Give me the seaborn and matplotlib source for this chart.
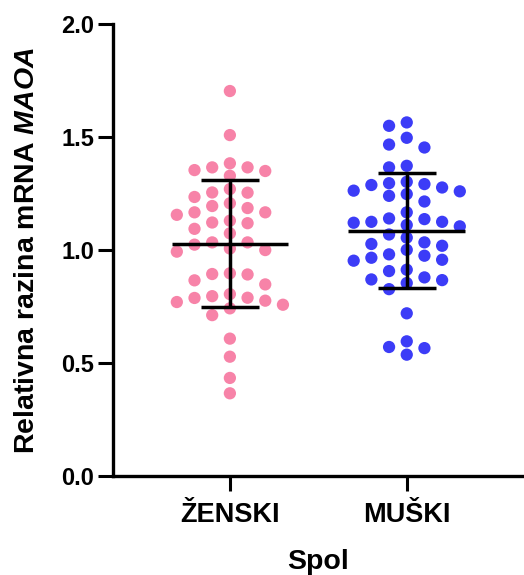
import numpy as np
import pandas as pd
import matplotlib
matplotlib.use("Agg")
import matplotlib.pyplot as plt
import seaborn as sns

# ---- data ----
groups = ["ŽENSKI", "MUŠKI"]
zenski = [1.704, 1.509, 1.384, 1.366, 1.350, 1.354, 1.366, 1.329, 1.270, 1.255,
          1.254, 1.235, 1.195, 1.207, 1.186, 1.167, 1.156, 1.167, 1.122, 1.130,
          1.119, 1.094, 1.074, 1.034, 1.024, 1.034, 0.993, 1.007, 1.000, 0.894,
          0.897, 0.892, 0.848, 0.866, 0.770, 0.788, 0.758, 0.776, 0.796, 0.789,
          0.805, 0.742, 0.712, 0.608, 0.528, 0.434, 0.366]
muski = [1.565, 1.550, 1.497, 1.467, 1.454, 1.366, 1.373, 1.302, 1.277, 1.292,
         1.296, 1.288, 1.260, 1.263, 1.248, 1.240, 1.215, 1.167, 1.140, 1.125,
         1.137, 1.125, 1.121, 1.111, 1.105, 1.069, 1.055, 1.034, 1.027, 1.019,
         1.001, 0.981, 0.975, 0.957, 0.953, 0.966, 0.913, 0.907, 0.879, 0.854,
         0.867, 0.870, 0.827, 0.720, 0.596, 0.537, 0.571, 0.566]
colors = ["#F783A8", "#3C3CF7"]
y_ticks = [0.0, 0.5, 1.0, 1.5, 2.0]
y_ticklabels = ["0.0", "0.5", "1.0", "1.5", "2.0"]

# ---- style ----
sns.set_style("ticks")
plt.rcParams["font.family"] = ["Liberation Sans", "DejaVu Sans"]
plt.rcParams["font.weight"] = "bold"
plt.rcParams["text.color"] = "black"
plt.rcParams["axes.labelcolor"] = "black"
plt.rcParams["xtick.color"] = "black"
plt.rcParams["ytick.color"] = "black"
plt.rcParams["mathtext.fontset"] = "custom"
plt.rcParams["mathtext.rm"] = "Liberation Sans:weight=bold"
plt.rcParams["mathtext.it"] = "Liberation Sans:style=italic:weight=bold"


def column_offsets(values, col_w=0.1, min_dy=0.054, max_cols=4):
    """Greedy column layout (GraphPad-like scatter dot plot)."""
    vals = np.asarray(values)
    order = np.argsort(-vals)
    cands = [0]
    for k in range(1, max_cols + 1):
        cands += [-k, k]
    placed = {c: [] for c in cands}
    offs = np.zeros(len(vals))
    for i in order:
        v = vals[i]
        for c in cands:
            if all(abs(v - p) >= min_dy for p in placed[c]):
                placed[c].append(v)
                offs[i] = c * col_w
                break
    return offs


rows = []
for gi, (g, vals) in enumerate(zip(groups, [zenski, muski])):
    offs = column_offsets(vals)
    for v, o in zip(vals, offs):
        rows.append({"Spol": g, "pos": gi + o, "val": v})
df = pd.DataFrame(rows)

fig = plt.figure(figsize=(5.24, 5.75), dpi=100)
ax = fig.add_axes([0.2156, 0.1722, 0.7834, 0.7858])

sns.scatterplot(data=df, x="pos", y="val", hue="Spol", palette=colors,
                s=78, edgecolor="none", legend=False, ax=ax, clip_on=False,
                zorder=2)

# mean +/- SD
for gi, vals in enumerate([zenski, muski]):
    m = np.mean(vals)
    sd = np.std(vals, ddof=1)
    ax.hlines(m, gi - 0.33, gi + 0.33, color="black", lw=2.5, zorder=3)
    ax.vlines(gi, m - sd, m + sd, color="black", lw=2.5, zorder=3)
    ax.hlines([m - sd, m + sd], gi - 0.165, gi + 0.165, color="black",
              lw=2.5, zorder=3)

ax.set_xlim(-0.661, 1.66)
ax.set_ylim(0, 2.0)
ax.set_xticks([0, 1])
ax.set_xticklabels(groups, fontsize=19.5, fontweight="bold", color="black")
ax.set_yticks(y_ticks)
ax.set_yticklabels(y_ticklabels, fontsize=17, fontweight="bold", color="black")
ax.tick_params(axis="both", length=10.5, width=2.2, color="black")
ax.tick_params(axis="y", pad=3)
ax.tick_params(axis="x", pad=8)

for side in ["top", "right"]:
    ax.spines[side].set_visible(False)
for side in ["left", "bottom"]:
    ax.spines[side].set_linewidth(2.4)
    ax.spines[side].set_color("black")

ax.set_xlabel("Spol", fontsize=20.5, fontweight="bold", labelpad=15,
              color="black")
ax.set_ylabel(r"Relativna razina mRNA $\it{MAOA}$", fontsize=20.5,
              fontweight="bold", labelpad=15, color="black")

fig.savefig("out.png", dpi=100)
